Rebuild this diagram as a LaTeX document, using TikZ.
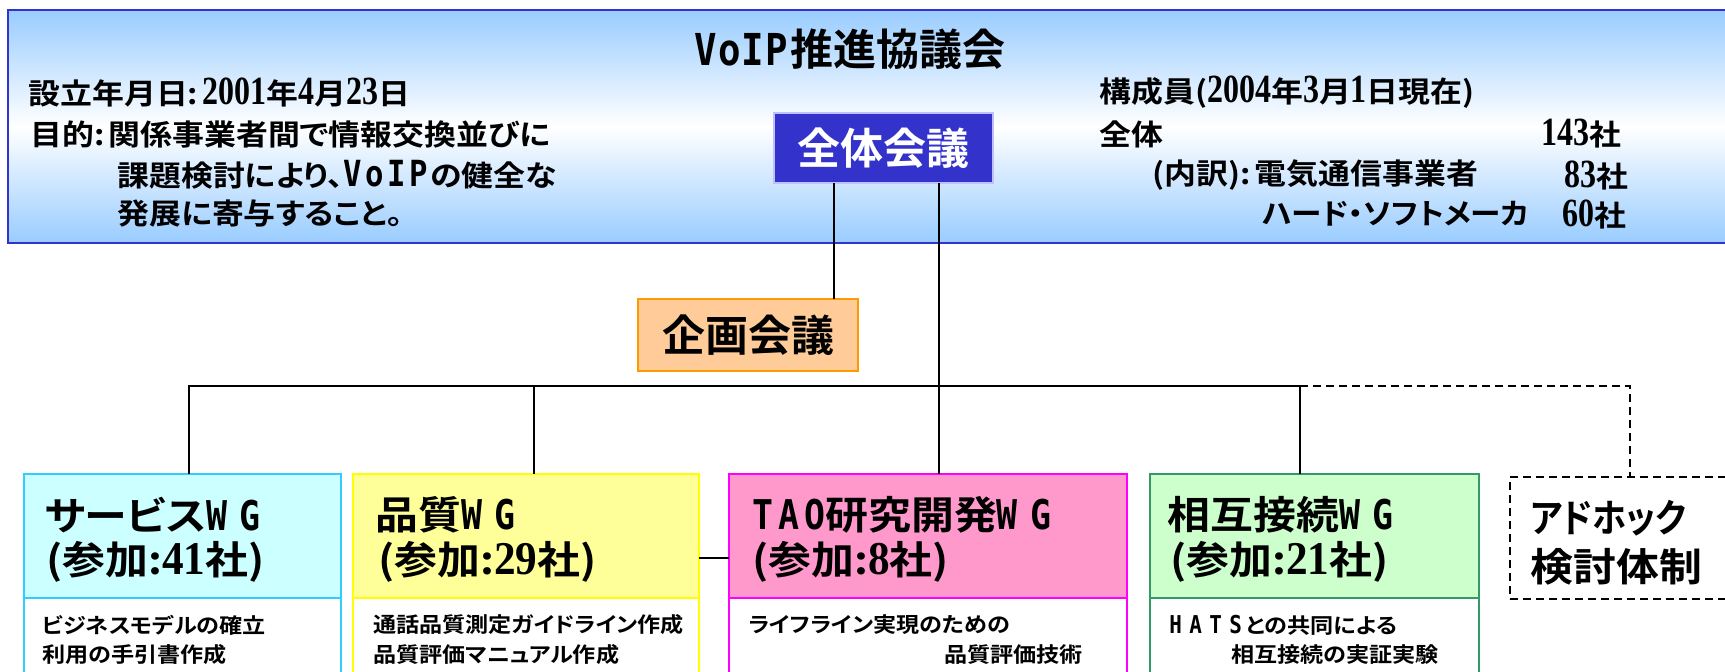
\documentclass[tikz,border=0pt]{standalone}
\usepackage{fontspec}
\usepackage{graphicx}
\usetikzlibrary{fit}
\newfontfamily\jp{Noto Sans CJK JP}[UprightFont={* Bold}, RawFeature=+palt]
\newfontfamily\jpw{Noto Sans CJK JP}[UprightFont={* Bold}, RawFeature=+palt, FakeStretch=1.1]
\newfontfamily\mono{DejaVu Sans Mono}[UprightFont={* Bold}, FakeStretch=0.85]
\newfontfamily\nmA{Liberation Serif}[UprightFont={* Bold}, FakeStretch=0.8]
\newfontfamily\nmB{Liberation Serif}[UprightFont={* Bold}, FakeStretch=0.92]
\newcommand\fs[1]{\fontsize{#1}{#1}\selectfont}
\newcommand\info{\jpw\fs{14.5pt}}
\newcommand\dA[1]{{\nmA\fs{20pt}#1}}
\newcommand\hdr{\jpw\fs{19.5pt}}
\newcommand\dB[1]{{\nmB\fs{23.5pt}#1}}
\newcommand\bdy{\jpw\fs{10.5pt}}
\newcommand\bigjp{\jp\fs{21.5pt}}
\definecolor{bannerblue}{HTML}{3333CC}
\definecolor{bannerfill}{HTML}{99CCFF}
\definecolor{zentaifill}{HTML}{3333CC}
\definecolor{kikakufill}{HTML}{FFCC99}
\definecolor{kikakuline}{HTML}{FF9900}
\definecolor{svcfill}{HTML}{CCFFFF}
\definecolor{svcline}{HTML}{33CCFF}
\definecolor{qualfill}{HTML}{FFFF99}
\definecolor{qualline}{HTML}{FFFF00}
\definecolor{taofill}{HTML}{FF99CC}
\definecolor{taoline}{HTML}{FF00FF}
\definecolor{icfill}{HTML}{CCFFCC}
\definecolor{icline}{HTML}{339966}
\begin{document}
\begin{tikzpicture}[x=0.5pt,y=-0.5pt,
  box/.style={inner sep=0pt, outer sep=0pt, line width=1pt},
  txt/.style={inner sep=0pt, anchor=west},
  conn/.style={line width=0.8pt, draw=black},
  dashline/.style={line width=0.8pt, draw=black, dash pattern=on 4pt off 2.5pt}]
\useasboundingbox (0,0) rectangle (1725,671);
% banner
\node[box, fit={(8,10) (1765,243)}, draw=bannerblue, top color=bannerfill, bottom color=bannerfill, middle color=white] (banner) {};
\node[inner sep=0pt] (title) at (850,49) {{\mono\fs{22pt}V\kern0.5pt o\kern0.5pt I\kern0.5pt P}\kern1pt{\bigjp 推進協議会}};
\node[txt] (i1) at (28,92) {\info 設立年月日:\kern2pt\dA{2001}年\dA{4}月\dA{23}日};
\node[txt] (i2) at (30,134) {\info 目的:\kern2pt関係事業者間で情報交換並びに};
\node[txt] (i3) at (117,175) {\info 課題検討により、{\mono\fs{18pt}V\kern1.8pt o\kern1.8pt I\kern1.8pt P}\kern1pt の健全な};
\node[txt] (i4) at (117,214) {\info 発展に寄与すること。};
\node[txt] (r1) at (1099,92) {\info 構成員(\dA{2004}年\dA{3}月\dA{1}日現在)};
\node[txt] (r2) at (1099,134) {\info 全体};
\node[txt, anchor=east] (r2n) at (1622,134) {\info \dA{143}社};
\node[txt] (r3) at (1152,175) {\info (内訳):\kern2pt電気通信事業者};
\node[txt, anchor=east] (r3n) at (1629,175) {\info \dA{83}社};
\node[txt] (r4) at (1262,214) {\scalebox{0.96}[1]{\info ハード・ソフトメーカ}};
\node[txt, anchor=east] (r4n) at (1627,214) {\info \dA{60}社};
% zentai kaigi
\node[box, fit={(774,113) (993,183)}, fill=zentaifill, draw=white!75!blue, line width=0.6pt] (zentai) {};
\node[inner sep=0pt, text=white] (zentaitxt) at (zentai.center) {\bigjp 全体会議};
% kikaku kaigi
\node[box, fit={(638,299) (858,371)}, fill=kikakufill, draw=kikakuline] (kikaku) {};
\node[inner sep=0pt] (kikakutxt) at (kikaku.center) {\bigjp 企画会議};
% WG bodies
\node[box, fit={(24,598) (341,700)}, fill=white, draw=svcline] (svcb) {};
\node[box, fit={(353,598) (699,700)}, fill=white, draw=qualline] (qualb) {};
\node[box, fit={(729,598) (1127,700)}, fill=white, draw=taoline] (taob) {};
\node[box, fit={(1150,598) (1479,700)}, fill=white, draw=icline] (icb) {};
% WG headers
\node[box, fit={(24,474) (341,598)}, fill=svcfill, draw=svcline] (svc) {};
\node[box, fit={(353,474) (699,598)}, fill=qualfill, draw=qualline] (qual) {};
\node[box, fit={(729,474) (1127,598)}, fill=taofill, draw=taoline] (tao) {};
\node[box, fit={(1150,474) (1479,598)}, fill=icfill, draw=icline] (ic) {};
\node[box, fit={(1510,477) (1765,599)}, draw=black, line width=0.8pt, dash pattern=on 4pt off 2.5pt] (adhoc) {};
% header texts
\node[txt] (svc1) at (44,515) {\hdr サービス{\mono\fs{20.5pt}W\kern6.25pt G}};
\node[txt] (svc2) at (46,562) {\hdr (参加:\dB{41}社)};
\node[txt] (qual1) at (375,515) {\hdr 品質{\mono\fs{20.5pt}W\kern6.25pt G}};
\node[txt] (qual2) at (378,562) {\hdr (参加:\dB{29}社)};
\node[txt] (tao1) at (752,515) {\hdr {\mono\fs{20.5pt}T\kern2.5pt A\kern2.5pt O}研究開発{\mono\fs{20.5pt}W\kern6.25pt G}};
\node[txt] (tao2) at (752,562) {\hdr (参加:\dB{8}社)};
\node[txt] (ic1) at (1167,515) {\hdr 相互接続{\mono\fs{20.5pt}W\kern6.25pt G}};
\node[txt] (ic2) at (1170,562) {\hdr (参加:\dB{21}社)};
\node[txt] (ad1) at (1530,518) {\scalebox{0.8}[1]{\hdr アドホック}};
\node[txt] (ad2) at (1530,567) {\hdr 検討体制};
% body texts
\node[txt] (svcb1) at (42,625) {\bdy ビジネスモデルの確立};
\node[txt] (svcb2) at (42,655) {\bdy 利用の手引書作成};
\node[txt] (qualb1) at (373,625) {\bdy 通話品質測定ガイドライン作成};
\node[txt] (qualb2) at (373,655) {\bdy 品質評価マニュアル作成};
\node[txt] (taob1) at (748,625) {\bdy ライフライン実現のための};
\node[txt, anchor=east] (taob2) at (1083,655) {\bdy 品質評価技術};
\node[txt] (icb1) at (1169,625) {\bdy {\mono\fs{12.3pt}H\kern3.7pt A\kern3.7pt T\kern3.7pt S}\kern2pt との共同による};
\node[txt] (icb2) at (1231,655) {\bdy 相互接続の実証実験};
% connectors
\coordinate (cA) at (834,0);
\coordinate (cB) at (939,0);
\coordinate (cS) at (189,0);
\coordinate (cQ) at (534,0);
\coordinate (cI) at (1300,0);
\coordinate (cD) at (1630,0);
\coordinate (bus) at (0,386);
\coordinate (link) at (0,558);
\draw[conn] (zentai.south -| cA) -- (kikaku.north -| cA);
\draw[conn] (zentai.south -| cB) -- (tao.north -| cB);
\draw[conn] (svc.north -| cS) -- (bus -| cS) -- (bus -| cI) -- (ic.north -| cI);
\draw[conn] (bus -| cQ) -- (qual.north -| cQ);
\draw[dashline] (bus -| cI) -- (bus -| cD) -- (adhoc.north -| cD);
\draw[conn] (qual.east |- link) -- (tao.west |- link);
\end{tikzpicture}
\end{document}
